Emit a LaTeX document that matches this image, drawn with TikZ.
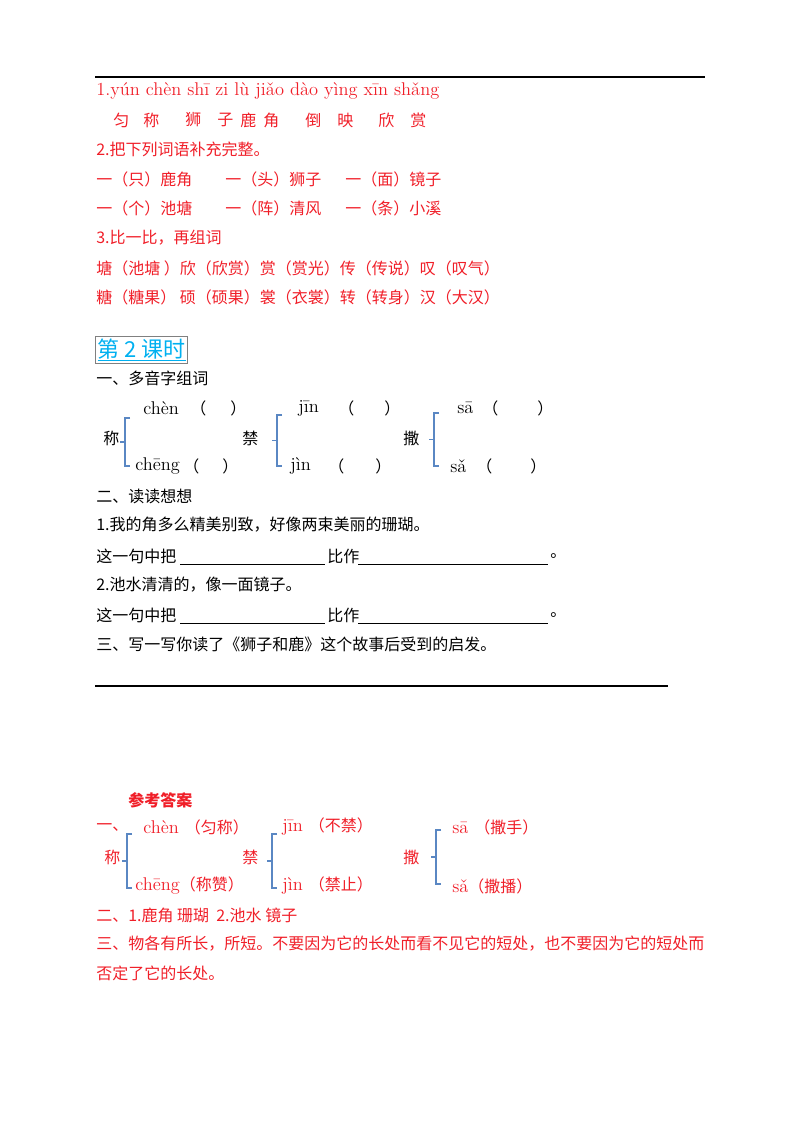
\documentclass[tikz,border=0pt]{standalone}
\usepackage{fontspec}
\setmainfont{Latin Modern Roman}
\newfontfamily\cjk{Noto Sans CJK SC}
\usetikzlibrary{positioning}
\definecolor{ansred}{RGB}{240,30,40}
\definecolor{brk}{RGB}{90,135,195}
\definecolor{headc}{RGB}{0,176,240}
\tikzset{
  txt/.style={anchor=west,inner sep=0pt,font=\fontsize{12}{14}\selectfont\cjk},
  red/.style={txt,text=ansred},
  py/.style={anchor=west,inner sep=0pt,font=\fontsize{13.8}{16}\selectfont},
  pyred/.style={py,text=ansred},
  bracket/.style={draw=brk,line width=0.8pt}
}
\newcommand{\pybrace}[3]{% x, top, bottom
  \draw[bracket] (#1+5,#2) -- (#1,#2) -- (#1,#3) -- (#1+5,#3);
  \draw[bracket] (#1,{(#2+#3)/2}) -- (#1-5,{(#2+#3)/2});}
\begin{document}
\begin{tikzpicture}[x=0.75pt,y=-0.75pt]
\useasboundingbox (0,0) rectangle (800,1132);
\draw[line width=0.8pt] (95,77) -- (705,77);

% answers, first lesson
\node[pyred] (l1) at (96,91) {1.yún chèn shī zi lù jiǎo dào yìng xīn shǎng};
\foreach \ch/\x in {匀/113,称/143,狮/185,子/217,鹿/240,角/263,倒/305,映/337,欣/378,赏/410}
  \node[red] (c\x) at (\x,120) {\ch};
\node[red] (l2) at (96,149) {2.把下列词语补充完整。};
\node[red] (a1) at (96,179) {一（只）鹿角};
\node[red] (a2) at (225,179) {一（头）狮子};
\node[red] (a3) at (345,179) {一（面）镜子};
\node[red] (b1) at (96,208) {一（个）池塘};
\node[red] (b2) at (225,208) {一（阵）清风};
\node[red] (b3) at (345,208) {一（条）小溪};
\node[red] (l3) at (96,238) {3.比一比，再组词};
\node[red] (l4) at (96,268) {塘（池塘 ）欣（欣赏）赏（赏光）传（传说）叹（叹气）};
\node[red] (l5) at (96,297) {糖（糖果） 硕（硕果）裳（衣裳）转（转身）汉（大汉）};

% second lesson
\node[draw=gray,line width=0.8pt,inner sep=1.5pt,anchor=west,text=headc,
  font=\fontsize{16.5}{19}\selectfont\cjk] (head) at (95,350) {\underline{第 2 课时}};
\node[txt] (q1) at (96,378) {一、多音字组词};
\node[txt] (z1) at (103,438) {称};
\node[txt] (z2) at (242,438) {禁};
\node[txt] (z3) at (403,438) {撒};
\pybrace{125}{418}{466}
\pybrace{277}{415}{466}
\pybrace{434}{413}{466}
\node[py] (p1) at (143,408) {chèn};
\node[py] (p2) at (135,466) {chēng};
\node[py] (p3) at (298,408) {jīn};
\node[py] (p4) at (290,466) {jìn};
\node[py] (p5) at (457,408) {sā};
\node[py] (p6) at (450,466) {sǎ};
\foreach \x/\y in {190/408,338/408,482/408,183/466,328/466,476/466}
  \node[txt] (o\x) at (\x,\y) {（};
\foreach \x/\y in {230/408,384/408,537/408,222/466,375/466,530/466}
  \node[txt] (e\x) at (\x,\y) {）};
\node[txt] (q2) at (96,496) {二、读读想想};
\node[txt] (s1) at (96,525) {1.我的角多么精美别致，好像两束美丽的珊瑚。};
\node[txt] (s2) at (96,585) {2.池水清清的，像一面镜子。};
\foreach \y in {556,615}{
  \node[txt] (f\y) at (96,\y) {这一句中把};
  \node[txt] (g\y) at (327,\y) {比作};
  \node[txt] (h\y) at (550,\y) {。};
  \draw[line width=0.6pt] (180,\y+8) -- (325,\y+8);
  \draw[line width=0.6pt] (358,\y+8) -- (548,\y+8);
}
\node[txt] (q3) at (96,644) {三、写一写你读了《狮子和鹿》这个故事后受到的启发。};
\draw[line width=0.8pt] (95,686) -- (668,686);

% reference answers
\node[red,font=\fontsize{12}{14}\selectfont\cjk\bfseries] (ans) at (128,800) {参考答案};
\node[red] (r0) at (96,827) {一、};
\node[red] (y1) at (104,857) {称};
\node[red] (y2) at (242,857) {禁};
\node[red] (y3) at (403,857) {撒};
\pybrace{127}{834}{888}
\pybrace{272}{834}{888}
\pybrace{436}{830}{884}
\node[pyred] (m1) at (143,827) {chèn \fontsize{12}{14}\selectfont\cjk （匀称）};
\node[pyred] (m2) at (135,886) {chēng\fontsize{12}{14}\selectfont\cjk （称赞）};
\node[pyred] (m3) at (282,827) {jīn \fontsize{12}{14}\selectfont\cjk （不禁）};
\node[pyred] (m4) at (282,886) {jìn \fontsize{12}{14}\selectfont\cjk （禁止）};
\node[pyred] (m5) at (452,827) {sā \fontsize{12}{14}\selectfont\cjk （撒手）};
\node[pyred] (m6) at (452,886) {sǎ\fontsize{12}{14}\selectfont\cjk （撒播）};
\node[red] (r2) at (96,915) {二、1.鹿角 珊瑚\ \ 2.池水 镜子};
\node[red] (r3) at (96,944) {三、物各有所长，所短。不要因为它的长处而看不见它的短处，也不要因为它的短处而};
\node[red] (r4) at (96,973) {否定了它的长处。};
\end{tikzpicture}
\end{document}
